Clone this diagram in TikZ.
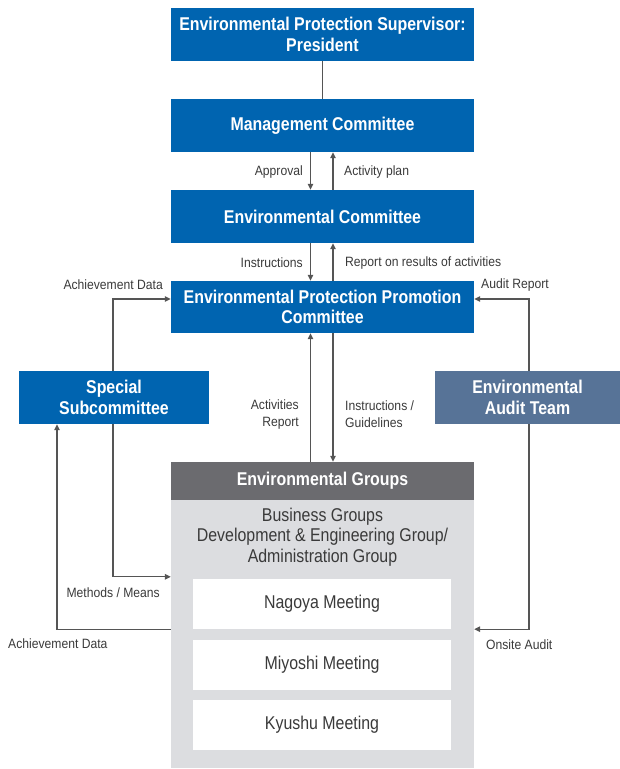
\documentclass[tikz,border=0pt]{standalone}
\usepackage{fontspec}
\setmainfont{Liberation Sans}[FakeStretch=0.9]
\newfontfamily\boxfont{Liberation Sans}[FakeStretch=0.86]
\usetikzlibrary{arrows.meta}
\definecolor{orgblue}{HTML}{0064B0}
\definecolor{auditblue}{HTML}{577397}
\definecolor{headgray}{HTML}{6B6B6F}
\definecolor{bodygray}{HTML}{DCDDE0}
\definecolor{linegray}{HTML}{555555}
\definecolor{textgray}{HTML}{3A3A3A}

\begin{document}
\begin{tikzpicture}
            [
            x=1pt,y=-1pt,
            box/.style={fill=orgblue,text=white,align=center,inner sep=0pt,
                font={\boxfont\bfseries\fontsize{18.5}{20.5}\selectfont},
                minimum width=303pt,minimum height=53pt},
            meeting/.style={fill=white,text=textgray,inner sep=0pt,
                font={\boxfont\fontsize{18.5}{20.5}\selectfont},
                minimum width=258pt,minimum height=50pt},
            lbl/.style={text=textgray,inner sep=0pt,
                font={\fontsize{13.5}{17}\selectfont}},
            link/.style={draw=linegray,line width=1.3pt},
            flow/.style={link,-{Triangle[length=6pt,width=5.5pt]}},
            ]
            \useasboundingbox (0,0) rectangle (620,769);

            % Committees
            \node[box] (pres) at (322.5,34.5) {Environmental Protection Supervisor:\\President};
            \node[box] (mgmt) at (322.5,125.5) {Management Committee};
            \node[box] (envc) at (322.5,216.5) {Environmental Committee};
            \node[box,minimum height=52pt] (eppc) at (322.5,307) {Environmental Protection Promotion\\Committee};
            \node[box,minimum width=190pt] (special) at (114,397.5) {Special\\Subcommittee};
            \node[box,fill=auditblue,minimum width=185pt] (audit) at (527.5,397.5) {Environmental\\Audit Team};

            % Groups
            \node[box,fill=headgray,minimum height=38pt] (head) at (322.5,481) {Environmental Groups};
            \node[fill=bodygray,inner sep=0pt,minimum width=303pt,minimum height=268pt] (body) at (322.5,634) {};
            \node[lbl,align=center,font={\boxfont\fontsize{18.5}{20.5}\selectfont}] (biz) at (322.5,537)
                {Business Groups\\Development \& Engineering Group/\\Administration Group};
            \node[meeting] (nagoya) at (322,604) {Nagoya Meeting};
            \node[meeting] (miyoshi) at (322,665) {Miyoshi Meeting};
            \node[meeting] (kyushu) at (322,725) {Kyushu Meeting};

            % Vertical links
            \draw[link] (pres) -- (mgmt);
            \draw[flow] ([xshift=-12pt]mgmt.south) -- ([xshift=-12pt]envc.north);
            \draw[flow] ([xshift=10.5pt]envc.north) -- ([xshift=10.5pt]mgmt.south);
            \draw[flow] ([xshift=-12pt]envc.south) -- ([xshift=-12pt]eppc.north);
            \draw[flow] ([xshift=10.5pt]eppc.north) -- ([xshift=10.5pt]envc.south);
            \draw[flow] ([xshift=-12pt]head.north) -- ([xshift=-12pt]eppc.south);
            \draw[flow] ([xshift=10.5pt]eppc.south) -- ([xshift=10.5pt]head.north);

            % Side loops
            \draw[flow] ([xshift=-1pt]special.north) |- ([yshift=8pt]eppc.west);
            \draw[flow] ([xshift=-1pt]special.south) |- ([yshift=2pt]body.west |- nagoya.north);
            \draw[flow] (body.west |- nagoya.south) -| ([xshift=-57pt]special.south);
            \draw[flow] ([xshift=1.5pt]audit.north) |- ([yshift=8pt]eppc.east);
            \draw[flow] ([xshift=1.5pt]audit.south) |- (body.east |- nagoya.south);

            % Labels
            \node[lbl,anchor=east] (approval) at (303,172) {Approval};
            \node[lbl,anchor=west] (plan) at (344,172) {Activity plan};
            \node[lbl,anchor=east] (instr) at (303,263) {Instructions};
            \node[lbl,anchor=west] (results) at (345,263) {Report on results of activities};
            \node[lbl,anchor=east] (achtop) at (163,285) {Achievement Data};
            \node[lbl,anchor=west] (auditrep) at (481,285) {Audit Report};
            \node[lbl,anchor=east,align=right] (actrep) at (299,414.5) {Activities\\Report};
            \node[lbl,anchor=west,align=left] (guide) at (345,414.5) {Instructions /\\Guidelines};
            \node[lbl,anchor=east] (methods) at (160,593) {Methods / Means};
            \node[lbl,anchor=west] (achbot) at (8,644) {Achievement Data};
            \node[lbl,anchor=west] (onsite) at (486,645) {Onsite Audit};

        \end{tikzpicture}
\end{document}
